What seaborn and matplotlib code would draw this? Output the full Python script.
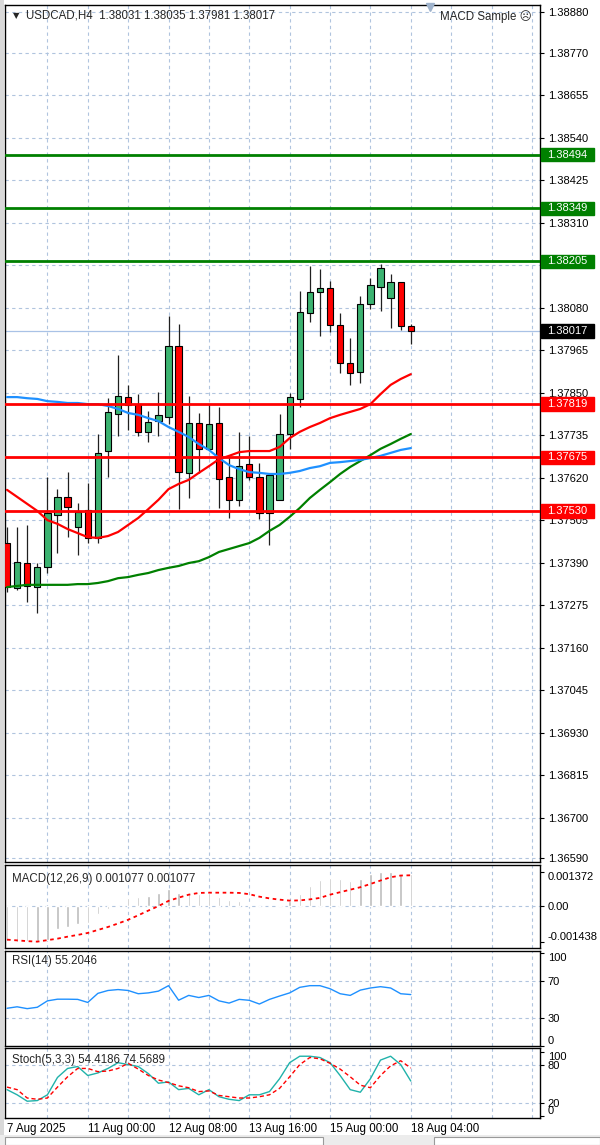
import numpy as np
import matplotlib
matplotlib.use("Agg")
import matplotlib.pyplot as plt
import matplotlib.transforms as mtransforms
from matplotlib.patches import Rectangle
import seaborn as sns

sns.set_style("white")
plt.rcParams["font.family"] = ["Liberation Sans", "DejaVu Sans"]
plt.rcParams["font.size"] = 8

##########################
# DATA #
##########################

opens = np.array([1.37443, 1.37321, 1.37389, 1.37324, 1.37378, 1.37519, 1.37568, 1.37486, 1.37532, 1.37457,
                  1.37692, 1.37792, 1.37838, 1.37819, 1.37744, 1.37773, 1.37784, 1.37976, 1.37633, 1.37768,
                  1.37698, 1.37768, 1.37622, 1.37560, 1.37657, 1.37622, 1.37524, 1.37560, 1.37738, 1.37833,
                  1.38066, 1.38122, 1.38133, 1.38033, 1.37930, 1.37906, 1.38090, 1.38136, 1.38106, 1.38149,
                  1.38031])
highs = np.array([1.37486, 1.37486, 1.37492, 1.37389, 1.37622, 1.37589, 1.37635, 1.37551, 1.37605, 1.37738,
                  1.37835, 1.37952, 1.37871, 1.37846, 1.37800, 1.37852, 1.38057, 1.38036, 1.37841, 1.37795,
                  1.37819, 1.37811, 1.37676, 1.37744, 1.37733, 1.37660, 1.37627, 1.37792, 1.37849, 1.38125,
                  1.38193, 1.38185, 1.38152, 1.38066, 1.37998, 1.38112, 1.38160, 1.38198, 1.38171, 1.38149,
                  1.38035])
lows = np.array([1.37311, 1.37316, 1.37283, 1.37254, 1.37362, 1.37416, 1.37459, 1.37411, 1.37443, 1.37443,
                 1.37622, 1.37733, 1.37749, 1.37733, 1.37716, 1.37733, 1.37765, 1.37535, 1.37565, 1.37633,
                 1.37695, 1.37538, 1.37511, 1.37543, 1.37614, 1.37508, 1.37438, 1.37560, 1.37698, 1.37811,
                 1.38041, 1.38003, 1.38014, 1.37903, 1.37871, 1.37876, 1.38076, 1.38071, 1.38025, 1.38020,
                 1.37981])
closes = np.array([1.37324, 1.37392, 1.37327, 1.37378, 1.37524, 1.37568, 1.37540, 1.37527, 1.37457, 1.37687,
                   1.37798, 1.37841, 1.37817, 1.37744, 1.37771, 1.37790, 1.37976, 1.37635, 1.37768, 1.37698,
                   1.37765, 1.37616, 1.37560, 1.37651, 1.37622, 1.37524, 1.37627, 1.37738, 1.37838, 1.38068,
                   1.38122, 1.38133, 1.38033, 1.37930, 1.37903, 1.38090, 1.38141, 1.38187, 1.38149, 1.38030,
                   1.38017])

ma_red = [1.37587, 1.37568, 1.37549, 1.37530, 1.37505, 1.37495, 1.37481, 1.37470, 1.37459, 1.37457,
          1.37462, 1.37473, 1.37492, 1.37511, 1.37535, 1.37560, 1.37589, 1.37603, 1.37614, 1.37633,
          1.37651, 1.37670, 1.37679, 1.37689, 1.37692, 1.37692, 1.37692, 1.37703, 1.37727, 1.37744,
          1.37757, 1.37768, 1.37781, 1.37790, 1.37798, 1.37806, 1.37819, 1.37846, 1.37871, 1.37887,
          1.37900]
ma_blue = [1.37838, 1.37838, 1.37835, 1.37833, 1.37827, 1.37825, 1.37822, 1.37822, 1.37819, 1.37819,
           1.37814, 1.37806, 1.37795, 1.37790, 1.37781, 1.37773, 1.37757, 1.37744, 1.37730, 1.37711,
           1.37695, 1.37673, 1.37654, 1.37643, 1.37635, 1.37633, 1.37630, 1.37630, 1.37633, 1.37638,
           1.37646, 1.37651, 1.37660, 1.37662, 1.37665, 1.37668, 1.37673, 1.37679, 1.37687, 1.37695,
           1.37700]
ma_green = [1.37324, 1.37327, 1.37330, 1.37330, 1.37330, 1.37330, 1.37330, 1.37332, 1.37332, 1.37335,
            1.37340, 1.37348, 1.37351, 1.37357, 1.37362, 1.37370, 1.37376, 1.37381, 1.37389, 1.37394,
            1.37405, 1.37419, 1.37427, 1.37435, 1.37443, 1.37457, 1.37476, 1.37492, 1.37514, 1.37538,
            1.37565, 1.37587, 1.37608, 1.37630, 1.37649, 1.37665, 1.37681, 1.37698, 1.37711, 1.37725,
            1.37738]

macd_hist = [-0.00140, -0.001438, -0.00143, -0.00141, -0.00136, -0.00094, -0.00087, -0.00073, -0.00069, -0.00033,
             -0.00013, -0.00005, 0.00031, 0.00037, 0.00040, 0.00053, 0.00069, 0.00053, 0.00051, 0.00047,
             0.00053, 0.00037, 0.00024, 0.00019, 0.00003, 0.00001, -0.00001, 0.00002, 0.00020, 0.00049,
             0.00080, 0.00104, 0.00114, 0.00110, 0.00100, 0.00110, 0.00130, 0.00136, 0.001372, 0.00128,
             0.00130]
macd_signal = [-0.00136, -0.00139, -0.00142, -0.00144, -0.00138, -0.00132, -0.00124, -0.00117, -0.00109, -0.00097,
               -0.00085, -0.00071, -0.00056, -0.00038, -0.00019, -0.00001, 0.00020, 0.00033, 0.00045, 0.00052,
               0.00053, 0.00053, 0.00053, 0.00052, 0.00047, 0.00037, 0.00030, 0.00025, 0.00021, 0.00022,
               0.00026, 0.00032, 0.00045, 0.00055, 0.00065, 0.00075, 0.00088, 0.00102, 0.00115, 0.00122,
               0.00123]

rsi = [40.4, 42.0, 40.0, 41.5, 48.4, 50.2, 50.2, 50.0, 46.7, 56.5,
       59.6, 60.6, 59.6, 56.1, 57.0, 58.9, 64.8, 49.1, 54.3, 52.0,
       54.3, 48.4, 46.0, 50.0, 49.0, 45.0, 50.0, 53.6, 57.0, 63.0,
       64.8, 64.8, 61.5, 56.1, 54.3, 60.0, 62.3, 63.7, 62.3, 56.1,
       55.2]

stoch_main = [41, 33, 23, 24, 33, 60, 74, 77, 63, 67,
              74, 83, 80, 77, 66, 51, 53, 41, 43, 33,
              41, 30, 26, 24, 33, 33, 38, 58, 83, 93,
              93, 91, 83, 63, 41, 37, 58, 87, 93, 80,
              54.4]
stoch_signal = [45, 41, 28, 26, 28, 45, 61, 74, 74, 69,
                70, 74, 82, 73, 63, 56, 52, 47, 44, 38,
                39, 32, 30, 28, 28, 30, 33, 43, 61, 80,
                91, 89, 82, 73, 61, 48, 44, 63, 78, 86,
                74.6]

price_ticks = [1.38880, 1.38770, 1.38655, 1.38540, 1.38425, 1.38310, 1.38195, 1.38080, 1.37965, 1.37850,
               1.37735, 1.37620, 1.37505, 1.37390, 1.37275, 1.37160, 1.37045, 1.36930, 1.36815, 1.36700,
               1.36590]
green_levels = [1.38494, 1.38349, 1.38205]
red_levels = [1.37819, 1.37675, 1.37530]
bid_price = 1.38017

date_pos = [0, 8, 16, 24, 32, 40]
date_labels = ["7 Aug 2025", "11 Aug 00:00", "12 Aug 08:00", "13 Aug 16:00", "15 Aug 00:00", "18 Aug 04:00"]

header = "USDCAD,H4  1.38031 1.38035 1.37981 1.38017"
macd_label = "MACD(12,26,9) 0.001077 0.001077"
rsi_label = "RSI(14) 55.2046"
stoch_label = "Stoch(5,3,3) 54.4186 74.5689"

###########
# LAYOUT  #
###########

W, H = 600, 1145
fig = plt.figure(figsize=(W / 100, H / 100), dpi=100)
fig.patch.set_facecolor("white")

def panel(y0, y1, x0=5, x1=540):
    return fig.add_axes([x0 / W, 1 - y1 / H, (x1 - x0) / W, (y1 - y0) / H])

ax = panel(5, 862)
ax_macd = panel(865, 948)
ax_rsi = panel(951, 1046)
ax_sto = panel(1048, 1118)

GRID = "#b0c4de"
DASH = (0, (3, 3))

def style_panel(a, hlines):
    a.set_xlim(-0.2, 52.8)
    for gx in range(4, 53, 4):
        a.axvline(gx, color=GRID, lw=0.8, ls=DASH, zorder=0)
    for gy in hlines:
        a.axhline(gy, color=GRID, lw=0.8, ls=DASH, zorder=0)
    a.yaxis.tick_right()
    a.tick_params(axis="y", direction="out", length=3, width=0.8, pad=2.5, labelsize=8, colors="black")
    a.tick_params(axis="x", length=0, labelbottom=False)
    a.set_xlabel("")
    a.set_ylabel("")
    for s in a.spines.values():
        s.set_linewidth(1)
        s.set_color("black")

idx = np.arange(len(closes))

##############
# MAIN CHART #
##############

style_panel(ax, price_ticks)
ax.set_ylim(1.36580, 1.38899)
ax.set_yticks(price_ticks)
ax.set_yticklabels([f"{v:.5f}" for v in price_ticks])

up = closes >= opens
ax.vlines(idx, lows, highs, color="#202020", lw=0.9, zorder=2)
body = np.maximum(np.abs(closes - opens), 0.00002)
ax.bar(idx, body, bottom=np.minimum(opens, closes), width=0.62,
       color=np.where(up, "#3cb371", "#ff0000"), edgecolor="black", linewidth=0.8, zorder=3)

sns.lineplot(x=idx, y=ma_green, ax=ax, color="#008000", linewidth=1.6, zorder=4)
sns.lineplot(x=idx, y=ma_blue, ax=ax, color="#1e90ff", linewidth=1.6, zorder=4)
sns.lineplot(x=idx, y=ma_red, ax=ax, color="#ff0000", linewidth=1.6, zorder=4)

ax.axhline(bid_price, color="#a9c2e6", lw=0.9, zorder=1)
for lv in green_levels:
    ax.axhline(lv, color="#008000", lw=2, zorder=5)
for lv in red_levels:
    ax.axhline(lv, color="#ff0000", lw=2, zorder=5)

# price tags on the right scale
trans = mtransforms.blended_transform_factory(ax.transAxes, ax.transData)
box_h = 0.00036
tags = [(v, "#008000") for v in green_levels] + [(v, "#ff0000") for v in red_levels] + [(bid_price, "black")]
for price, col in tags:
    ax.add_patch(Rectangle((1.0019, price - box_h / 2), 0.099, box_h, transform=trans,
                           facecolor=col, edgecolor=col, clip_on=False, zorder=6))
    ax.text(1.0135, price, f"{price:.5f}", transform=trans, color="white", va="center", ha="left",
            fontsize=8, clip_on=False, zorder=7)

ax.text(0.015, 0.9875, "\u25bc", transform=ax.transAxes, fontsize=6, va="center", ha="left",
        family=["DejaVu Sans"])
ax.text(0.039, 0.9875, header, transform=ax.transAxes, fontsize=8.3, va="center", ha="left")
ax.text(0.985, 0.9865, "MACD Sample \u2639", transform=ax.transAxes, fontsize=8.3, va="center", ha="right",
        family=["Liberation Sans", "DejaVu Sans"])
ax.plot([(430 - 5) / 535], [0.9975], marker="v", color="#9fb3cc", markersize=6, transform=ax.transAxes,
        clip_on=False, zorder=6)

########
# MACD #
########

style_panel(ax_macd, [0])
ax_macd.set_ylim(-0.001696, 0.001644)
ax_macd.bar(idx, macd_hist, width=0.24, color="#bcbcbc", zorder=2)
sns.lineplot(x=idx, y=macd_signal, ax=ax_macd, color="#ff0000", linewidth=1.3, linestyle=(0, (2, 2)), zorder=3)
ax_macd.set_yticks([0.001372, 0.0, -0.001438])
ax_macd.set_yticklabels(["0.001372", "0.00", "-0.001438"])
ax_macd.get_yticklabels()[0].set_va("top")
ax_macd.get_yticklabels()[2].set_va("bottom")
ax_macd.text(0.013, 0.83, macd_label, transform=ax_macd.transAxes, fontsize=8.3, va="center", ha="left")

#######
# RSI #
#######

style_panel(ax_rsi, [70, 30])
ax_rsi.set_ylim(-0.3, 102.2)
sns.lineplot(x=idx, y=rsi, ax=ax_rsi, color="#1e90ff", linewidth=1.0, zorder=3)
ax_rsi.set_yticks([100, 70, 30, 0])
ax_rsi.set_yticklabels(["100", "70", "30", "0"])
ax_rsi.get_yticklabels()[0].set_va("top")
ax_rsi.get_yticklabels()[3].set_va("bottom")
ax_rsi.text(0.013, 0.895, rsi_label, transform=ax_rsi.transAxes, fontsize=8.3, va="center", ha="left")

##############
# STOCHASTIC #
##############

style_panel(ax_sto, [80, 20])
ax_sto.set_ylim(-3.1, 105.8)
sns.lineplot(x=idx, y=stoch_main, ax=ax_sto, color="#20b2aa", linewidth=1.0, zorder=3)
sns.lineplot(x=idx, y=stoch_signal, ax=ax_sto, color="#ff0000", linewidth=1.0, linestyle=(0, (3, 2)), zorder=3)
ax_sto.set_yticks([100, 80, 20, 0])
ax_sto.set_yticklabels(["100", "80", "20", "0"])
ax_sto.get_yticklabels()[0].set_va("top")
ax_sto.get_yticklabels()[3].set_va("bottom")
ax_sto.text(0.013, 0.83, stoch_label, transform=ax_sto.transAxes, fontsize=8.3, va="center", ha="left")

ax_sto.set_xticks(date_pos)
ax_sto.set_xticklabels(date_labels)
ax_sto.tick_params(axis="x", direction="out", length=3, width=0.8, pad=0.5, labelbottom=True,
                   labelsize=8.3, colors="black")
for lab in ax_sto.get_xticklabels():
    lab.set_ha("left")
ax_sto.set_xlim(-0.2, 52.8)

################
# WINDOW FRAME #
################

fig.add_artist(Rectangle((0, 0), 4 / W, 1, transform=fig.transFigure, facecolor="#d9d9d9",
                         edgecolor="none", zorder=-1))
fig.add_artist(Rectangle((0, 0), 1, 10 / H, transform=fig.transFigure, facecolor="#ececec",
                         edgecolor="none", zorder=-1))
fig.add_artist(Rectangle((5 / W, 0), 318 / W, 8 / H, transform=fig.transFigure, facecolor="white",
                         edgecolor="#9a9a9a", linewidth=0.8))
fig.add_artist(Rectangle((434 / W, 0), 166 / W, 8 / H, transform=fig.transFigure, facecolor="white",
                         edgecolor="#9a9a9a", linewidth=0.8))

fig.savefig("out.png", dpi=100)
